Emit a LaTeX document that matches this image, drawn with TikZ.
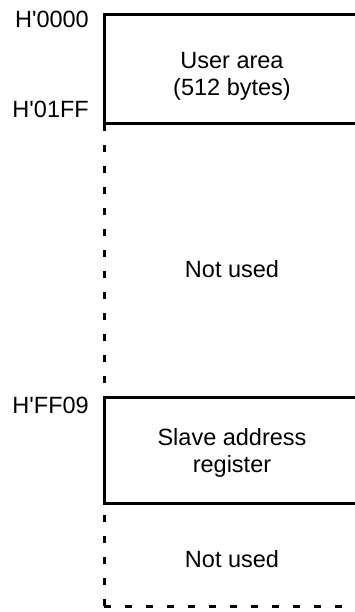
\documentclass[tikz,border=0pt]{standalone}
\usepackage{fontspec}
\setmainfont[Ligatures=TeXOff]{Liberation Sans}
\newcommand{\sq}{\char"0027\relax}
\begin{document}
\begin{tikzpicture}[x=1pt,y=-1pt,
  lbl/.style={inner sep=0pt,font=\fontsize{23.5}{27}\selectfont,anchor=base},
  addr/.style={inner sep=0pt,font=\fontsize{23.5}{27}\selectfont,anchor=base east},
  solidline/.style={line width=3pt,line join=miter,line cap=butt},
  dashline/.style={line width=3pt,line cap=butt,dash pattern=on 7pt off 14pt}]
\useasboundingbox (0,0) rectangle (354,612);
% boxes
\draw[solidline] (356,15) -- (104,15) -- (104,124) -- (356,124);
\draw[solidline] (356,397) -- (104,397) -- (104,503) -- (356,503);
% unused areas
\draw[dashline] (104,124) -- (104,397);
\draw[dashline] (104,606) -- (104,503);
\draw[dashline] (104,606) -- (356,606);
% address labels
\node[addr] (a0) at (89,28) {H\sq0000};
\node[addr] (a1) at (89,118) {H\sq01FF};
\node[addr] (a2) at (89,413) {H\sq FF09};
% contents
\node[lbl] (u1) at (232,69) {User area};
\node[lbl] (u2) at (232,95.5) {(512 bytes)};
\node[lbl] (n1) at (232,277) {Not used};
\node[lbl] (s1) at (232,445) {Slave address};
\node[lbl] (s2) at (232,472) {register};
\node[lbl] (n2) at (232,567) {Not used};
\end{tikzpicture}
\end{document}
